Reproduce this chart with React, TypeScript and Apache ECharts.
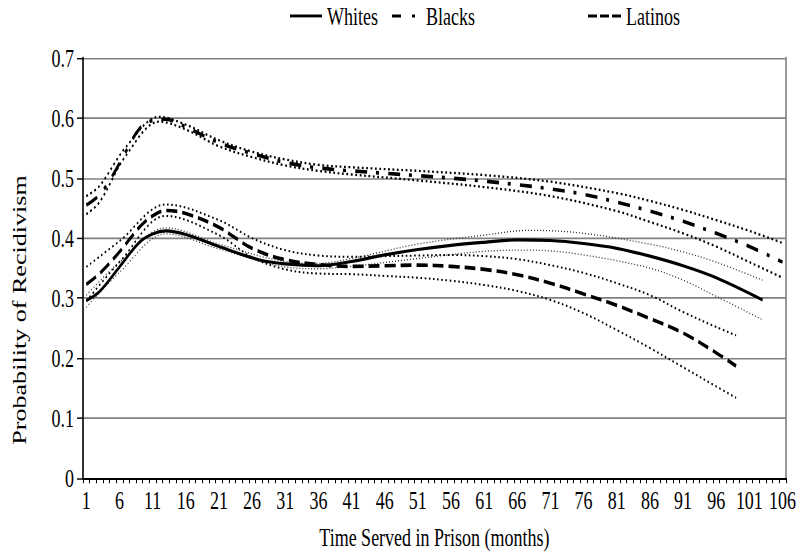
import React, { useEffect, useRef } from "react";
import * as echarts from "echarts";

// Months 1..106 (category axis)
const months: string[] = Array.from({ length: 106 }, (_, i) => String(i + 1));

// Whites
const whitesX = [1, 3, 6, 9, 11, 13, 16, 21, 27, 31, 36, 41, 46, 51, 56, 61, 66, 71, 76, 81, 86, 91, 96, 103];
const whitesY = [0.296, 0.311, 0.352, 0.393, 0.407, 0.412, 0.406, 0.386, 0.364, 0.357, 0.354, 0.361, 0.372, 0.381, 0.388, 0.393, 0.397, 0.396, 0.391, 0.383, 0.370, 0.354, 0.334, 0.297];
const whitesCIX = [1, 6, 13, 21, 31, 36, 41, 51, 61, 68, 76, 86, 91, 96, 103];
const whitesUp = [0.305, 0.360, 0.417, 0.390, 0.361, 0.358, 0.366, 0.390, 0.405, 0.413, 0.408, 0.390, 0.377, 0.360, 0.330];
const whitesLo = [0.285, 0.343, 0.407, 0.382, 0.352, 0.349, 0.353, 0.366, 0.378, 0.380, 0.372, 0.350, 0.330, 0.303, 0.264];

// Blacks
const blacksX = [1, 3, 5, 7, 9, 11, 13, 16, 21, 26, 31, 36, 41, 46, 51, 56, 61, 66, 71, 76, 81, 86, 91, 96, 101, 106];
const blacksY = [0.455, 0.472, 0.505, 0.545, 0.582, 0.596, 0.598, 0.585, 0.559, 0.541, 0.526, 0.517, 0.512, 0.508, 0.504, 0.500, 0.495, 0.489, 0.482, 0.473, 0.460, 0.445, 0.428, 0.408, 0.386, 0.360];
const blacksCIX = [1, 3, 7, 12, 16, 21, 26, 31, 36, 41, 51, 61, 71, 81, 86, 91, 96, 101, 106];
const blacksUp = [0.470, 0.487, 0.552, 0.602, 0.589, 0.563, 0.544, 0.531, 0.522, 0.518, 0.512, 0.505, 0.494, 0.475, 0.462, 0.447, 0.430, 0.412, 0.392];
const blacksLo = [0.440, 0.460, 0.538, 0.594, 0.581, 0.553, 0.535, 0.521, 0.512, 0.506, 0.496, 0.485, 0.470, 0.445, 0.427, 0.408, 0.386, 0.360, 0.334];

// Latinos
const latinosX = [1, 3, 6, 9, 11, 13, 16, 21, 26, 31, 36, 41, 46, 51, 56, 61, 66, 71, 76, 81, 86, 91, 96, 99];
const latinosY = [0.323, 0.341, 0.377, 0.418, 0.437, 0.446, 0.441, 0.418, 0.383, 0.364, 0.356, 0.353, 0.354, 0.355, 0.353, 0.348, 0.339, 0.325, 0.307, 0.288, 0.266, 0.242, 0.209, 0.187];
const latinosCIX = [1, 6, 13, 21, 26, 31, 36, 41, 46, 51, 56, 61, 66, 71, 76, 81, 86, 91, 96, 99];
const latinosUp = [0.352, 0.395, 0.456, 0.430, 0.400, 0.380, 0.371, 0.369, 0.370, 0.371, 0.372, 0.370, 0.365, 0.355, 0.342, 0.325, 0.305, 0.277, 0.252, 0.238];
const latinosLo = [0.295, 0.360, 0.437, 0.405, 0.368, 0.348, 0.341, 0.340, 0.337, 0.334, 0.329, 0.322, 0.312, 0.297, 0.275, 0.247, 0.217, 0.185, 0.153, 0.134];

const zip = (xs: number[], ys: number[]) => xs.map((x, i) => [x, ys[i]]);

const FONT = "Liberation Serif";
const W = 799;
const H = 385; // chart drawn at this height, then stretched to 558
const SY = 558 / H;
const SMOOTH = 0.35;

export default function App() {
  const ref = useRef<HTMLDivElement>(null);
  useEffect(() => {
    if (!ref.current) return;
    const chart = echarts.init(ref.current, null, { renderer: "svg", width: W, height: H });
    const ciSeries = (name: string, xs: number[], ys: number[], width: number, dash: number[], color: string) => ({
      name,
      type: "line",
      xAxisIndex: 1,
      data: zip(xs, ys),
      smooth: SMOOTH,
      showSymbol: false,
      symbol: "none",
      lineStyle: { color, width, type: dash },
      z: 2,
    });
    const legendBase = {
      top: 2,
      padding: 0,
      itemHeight: 14,
      textStyle: { fontFamily: FONT, fontSize: 18, color: "#000" },
      selectedMode: false,
    };
    chart.setOption({
      animation: false,
      backgroundColor: "#fff",
      textStyle: { fontFamily: FONT },
      legend: [
        { ...legendBase, left: 290, itemWidth: 32, data: [{ name: "Whites", icon: "path://M0,0H32V2H0Z" }] },
        {
          ...legendBase,
          left: 392,
          itemWidth: 23,
          data: [{ name: "Blacks", icon: "path://M0,0H9V2H0Z M20,0H23V2H20Z", textStyle: { padding: [0, 0, 0, 6] } }],
        },
        {
          ...legendBase,
          left: 588,
          itemWidth: 33,
          data: [{ name: "Latinos", icon: "path://M0,0H9V2H0Z M12,0H21V2H12Z M24,0H33V2H24Z" }],
        },
      ],
      graphic: [
        {
          type: "text",
          x: 20,
          y: 310 / SY,
          rotation: Math.PI / 2,
          style: {
            text: "Probability of Recidivism",
            fontFamily: FONT,
            fontSize: 18,
            fill: "#000",
            align: "center",
            verticalAlign: "middle",
          },
        },
      ],
      grid: { left: 83, right: 9, top: 58 / SY, bottom: (558 - 485) / SY, containLabel: false },
      xAxis: [
        {
          type: "category",
          data: months,
          boundaryGap: true,
          name: "Time Served in Prison (months)",
          nameLocation: "middle",
          nameGap: 32,
          nameTextStyle: { fontFamily: FONT, fontSize: 18, color: "#000" },
          axisLine: { lineStyle: { color: "#000", width: 1.4 } },
          axisTick: { show: true, interval: 0, length: 3.5, lineStyle: { color: "#000" } },
          axisLabel: { interval: 4, margin: 6, fontFamily: FONT, fontSize: 18, color: "#000" },
          splitLine: { show: false },
        },
        {
          type: "value",
          min: 0.5,
          max: 106.5,
          show: false,
          splitLine: { show: false },
        },
      ],
      yAxis: [
        {
          type: "value",
          min: 0,
          max: 0.7,
          interval: 0.1,
          axisLine: { show: true, lineStyle: { color: "#000", width: 1.6 } },
          axisTick: { show: true, length: 6, lineStyle: { color: "#000", width: 1 } },
          axisLabel: { margin: 9, fontFamily: FONT, fontSize: 18, color: "#000" },
          splitLine: { show: true, lineStyle: { color: "#808080", width: 1.1 } },
        },
        {
          type: "value",
          min: 0,
          max: 0.7,
          interval: 0.1,
          position: "right",
          axisLine: { show: true, lineStyle: { color: "#808080", width: 1.6 } },
          axisTick: { show: false },
          axisLabel: { show: false },
          splitLine: { show: false },
        },
      ],
      series: [
        ciSeries("Whites upper", whitesCIX, whitesUp, 0.9, [1, 2], "#333"),
        ciSeries("Whites lower", whitesCIX, whitesLo, 0.9, [1, 2], "#333"),
        ciSeries("Blacks upper", blacksCIX, blacksUp, 1.6, [1.8, 2.6], "#000"),
        ciSeries("Blacks lower", blacksCIX, blacksLo, 1.6, [1.8, 2.6], "#000"),
        ciSeries("Latinos upper", latinosCIX, latinosUp, 1.4, [1.6, 2.6], "#000"),
        ciSeries("Latinos lower", latinosCIX, latinosLo, 1.4, [1.6, 2.6], "#000"),
        {
          name: "Whites",
          type: "line",
          xAxisIndex: 1,
          data: zip(whitesX, whitesY),
          smooth: SMOOTH,
          showSymbol: false,
          symbol: "none",
          lineStyle: { color: "#000", width: 2.2, type: "solid" },
          itemStyle: { color: "#000" },
          z: 5,
        },
        {
          name: "Blacks",
          type: "line",
          xAxisIndex: 1,
          data: zip(blacksX, blacksY),
          smooth: SMOOTH,
          showSymbol: false,
          symbol: "none",
          lineStyle: { color: "#000", width: 2.5, type: [12, 9, 3, 9] },
          itemStyle: { color: "#000" },
          z: 5,
        },
        {
          name: "Latinos",
          type: "line",
          xAxisIndex: 1,
          data: zip(latinosX, latinosY),
          smooth: SMOOTH,
          showSymbol: false,
          symbol: "none",
          lineStyle: { color: "#000", width: 2.5, type: [11, 5] },
          itemStyle: { color: "#000" },
          z: 5,
        },
      ],
    });
    return () => chart.dispose();
  }, []);
  return (
    <div style={{ position: "absolute", left: 0, top: 0, width: W, height: 558, overflow: "hidden", background: "#fff" }}>
      <div
        ref={ref}
        style={{ width: W, height: H, transform: `scaleY(${SY})`, transformOrigin: "0 0" }}
      />
    </div>
  );
}
